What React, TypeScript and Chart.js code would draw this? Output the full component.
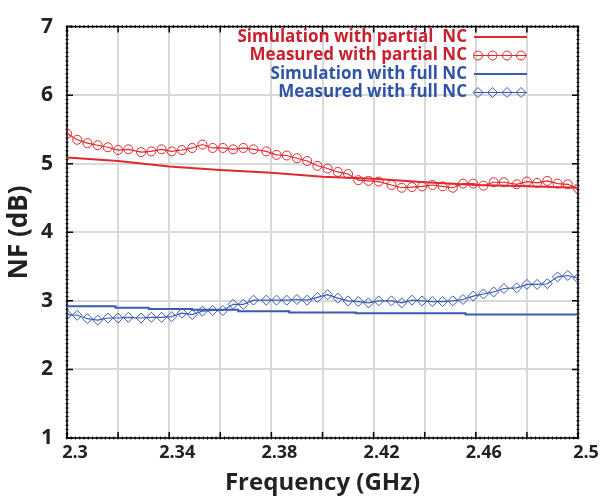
import React, { useEffect, useRef } from 'react';
import { Chart, registerables } from 'chart.js';

Chart.register(...registerables);

// Measured frequencies (GHz)
const FREQ = [
  2.300, 2.304, 2.308, 2.312, 2.316, 2.320, 2.324, 2.329, 2.333, 2.337,
  2.341, 2.345, 2.349, 2.353, 2.357, 2.361, 2.365, 2.369, 2.373, 2.378,
  2.382, 2.386, 2.390, 2.394, 2.398, 2.402, 2.406, 2.410, 2.414, 2.418,
  2.422, 2.427, 2.431, 2.435, 2.439, 2.443, 2.447, 2.451, 2.455, 2.459,
  2.463, 2.467, 2.471, 2.476, 2.480, 2.484, 2.488, 2.492, 2.496, 2.500,
];

const MEAS_PARTIAL = [
  5.44, 5.35, 5.30, 5.27, 5.24, 5.20, 5.21, 5.17, 5.18, 5.21,
  5.18, 5.20, 5.23, 5.28, 5.23, 5.23, 5.21, 5.23, 5.21, 5.18,
  5.13, 5.12, 5.08, 5.04, 4.97, 4.93, 4.88, 4.85, 4.76, 4.75,
  4.74, 4.69, 4.65, 4.66, 4.67, 4.69, 4.67, 4.65, 4.71, 4.71,
  4.68, 4.73, 4.73, 4.70, 4.74, 4.72, 4.75, 4.71, 4.70, 4.64,
];

const MEAS_FULL = [
  2.80, 2.79, 2.74, 2.72, 2.75, 2.75, 2.76, 2.75, 2.76, 2.76,
  2.77, 2.82, 2.80, 2.85, 2.86, 2.86, 2.95, 2.95, 3.01, 3.01,
  3.01, 3.01, 3.02, 3.01, 3.05, 3.09, 3.04, 3.00, 2.99, 2.97,
  3.00, 3.00, 2.97, 3.01, 3.00, 2.99, 2.99, 3.00, 3.02, 3.07,
  3.10, 3.13, 3.18, 3.19, 3.24, 3.24, 3.25, 3.35, 3.37, 3.33,
];

const SIM_PARTIAL_FREQ = [2.30, 2.32, 2.34, 2.36, 2.38, 2.40, 2.42, 2.44, 2.46, 2.48, 2.50];
const SIM_PARTIAL = [5.09, 5.04, 4.96, 4.91, 4.87, 4.81, 4.78, 4.73, 4.69, 4.67, 4.65];

const SIM_FULL_FREQ = [2.300, 2.319, 2.332, 2.349, 2.367, 2.387, 2.413, 2.456, 2.500];
const SIM_FULL = [2.92, 2.90, 2.88, 2.87, 2.85, 2.83, 2.82, 2.80, 2.80];

const X_TICK_LABELS = ['2.3', '2.34', '2.38', '2.42', '2.46', '2.5'];
const Y_TICKS = [1, 2, 3, 4, 5, 6, 7];

const LEGEND_LABELS = [
  'Simulation with partial  NC',
  'Measured with partial NC',
  'Simulation with full NC',
  'Measured with full NC',
];

const RED = '#e0292d';
const RED_TEXT = '#c8202d';
const BLUE = '#3a5bb0';
const BLUE_TEXT = '#2f53a6';
const FONT = '"Open Sans", Lato, sans-serif';

const zip = (xs: number[], ys: number[]) => xs.map((x, i) => ({ x, y: ys[i] }));

const framePlugin = {
  id: 'frame',
  beforeDatasetsDraw(chart: any) {
    const { ctx, chartArea } = chart;
    const { left, right, top, bottom } = chartArea;
    const xs = chart.scales.x;
    const ys = chart.scales.y;
    ctx.save();
    ctx.strokeStyle = '#000';
    ctx.lineWidth = 1;
    ctx.beginPath();
    const xStep = (xs.getPixelForValue(2.32) - xs.getPixelForValue(2.3)) / 12;
    for (let x = left; x <= right + 0.5; x += xStep) {
      ctx.moveTo(x, top - 1.5); ctx.lineTo(x, top + 1.5);
      ctx.moveTo(x, bottom - 1.5); ctx.lineTo(x, bottom + 1.5);
    }
    const yStep = (ys.getPixelForValue(1) - ys.getPixelForValue(2)) / 16;
    for (let y = bottom; y >= top - 0.5; y -= yStep) {
      ctx.moveTo(left - 1.5, y); ctx.lineTo(left + 1.5, y);
      ctx.moveTo(right - 1.5, y); ctx.lineTo(right + 1.5, y);
    }
    ctx.stroke();
    ctx.lineWidth = 1.5;
    ctx.beginPath();
    xs.ticks.forEach((t: any) => {
      const x = xs.getPixelForValue(t.value);
      ctx.moveTo(x, bottom); ctx.lineTo(x, bottom - 6);
      ctx.moveTo(x, top); ctx.lineTo(x, top + 6);
    });
    ys.ticks.forEach((t: any) => {
      const y = ys.getPixelForValue(t.value);
      ctx.moveTo(left, y); ctx.lineTo(left + 6, y);
      ctx.moveTo(right, y); ctx.lineTo(right - 6, y);
    });
    ctx.stroke();
    ctx.lineWidth = 1.5;
    ctx.strokeRect(left, top, right - left, bottom - top);
    ctx.restore();
  },
};

const legendPlugin = {
  id: 'customLegend',
  afterDraw(chart: any) {
    const { ctx } = chart;
    const textRight = 467;
    const lineStart = 474;
    const lineEnd = 527;
    const rows = [37, 55.5, 74, 92.5];
    ctx.save();
    chart.data.datasets.forEach((ds: any, i: number) => {
      const y = rows[i];
      ctx.font = `bold 17px ${FONT}`;
      ctx.textAlign = 'right';
      ctx.textBaseline = 'middle';
      ctx.fillStyle = ds.textColor;
      ctx.fillText(ds.label, textRight, y);
      ctx.strokeStyle = ds.borderColor;
      ctx.lineWidth = ds.pointRadius > 0 ? 1.2 : 2;
      ctx.beginPath();
      ctx.moveTo(lineStart, y);
      ctx.lineTo(lineEnd, y);
      ctx.stroke();
      if (ds.pointRadius > 0) {
        ctx.lineWidth = 1;
        const r = ds.pointRadius;
        [478, 492.5, 507, 521].forEach((px) => {
          ctx.beginPath();
          if (ds.pointStyle === 'circle') {
            ctx.arc(px, y, r, 0, Math.PI * 2);
          } else {
            ctx.moveTo(px, y - r);
            ctx.lineTo(px + r, y);
            ctx.lineTo(px, y + r);
            ctx.lineTo(px - r, y);
            ctx.closePath();
          }
          ctx.stroke();
        });
      }
    });
    ctx.restore();
  },
};

export default function App() {
  const ref = useRef<HTMLCanvasElement>(null);

  useEffect(() => {
    if (!ref.current) return;
    const chart = new Chart(ref.current, {
      type: 'line',
      data: {
        datasets: [
          {
            label: LEGEND_LABELS[0],
            data: zip(SIM_PARTIAL_FREQ, SIM_PARTIAL),
            borderColor: RED,
            borderWidth: 2,
            pointRadius: 0,
            textColor: RED_TEXT,
          } as any,
          {
            label: LEGEND_LABELS[1],
            data: zip(FREQ, MEAS_PARTIAL),
            borderColor: RED,
            borderWidth: 1.2,
            pointRadius: 4.5,
            pointStyle: 'circle',
            pointBorderWidth: 1,
            pointBorderColor: RED,
            pointBackgroundColor: 'rgba(0,0,0,0)',
            textColor: RED_TEXT,
          } as any,
          {
            label: LEGEND_LABELS[2],
            data: zip(SIM_FULL_FREQ, SIM_FULL),
            borderColor: BLUE,
            borderWidth: 2,
            pointRadius: 0,
            stepped: 'before',
            textColor: BLUE_TEXT,
          } as any,
          {
            label: LEGEND_LABELS[3],
            data: zip(FREQ, MEAS_FULL),
            borderColor: BLUE,
            borderWidth: 1.2,
            pointRadius: 5,
            pointStyle: 'rectRot',
            pointBorderWidth: 1,
            pointBorderColor: BLUE,
            pointBackgroundColor: 'rgba(0,0,0,0)',
            textColor: BLUE_TEXT,
          } as any,
        ],
      },
      options: {
        responsive: false,
        animation: false,
        layout: { padding: { top: 13, right: 22, bottom: 0, left: 0 } },
        plugins: {
          legend: { display: false },
          tooltip: { enabled: false },
        },
        scales: {
          x: {
            type: 'linear',
            min: 2.3,
            max: 2.5,
            afterFit: (s: any) => { s.height = 61; },
            ticks: {
              stepSize: 0.02,
              autoSkip: false,
              maxRotation: 0,
              padding: 4,
              labelOffset: 8,
              color: '#222',
              font: { family: FONT, size: 18, weight: 'bold' },
              callback: (v: any) => {
                const s = String(parseFloat(Number(v).toFixed(2)));
                return X_TICK_LABELS.includes(s) ? s : '';
              },
            },
            grid: { color: '#d9d9d9', lineWidth: 2, drawTicks: false },
            border: { display: false },
            title: {
              display: true,
              text: 'Frequency (GHz)',
              color: '#222',
              font: { family: FONT, size: 24, weight: 'bold' },
              padding: { top: 0, bottom: 1 },
            },
          },
          y: {
            type: 'linear',
            min: Y_TICKS[0],
            max: Y_TICKS[Y_TICKS.length - 1],
            afterFit: (s: any) => { s.width = 67; },
            ticks: {
              stepSize: 1,
              padding: 14,
              color: '#222',
              font: { family: FONT, size: 21, weight: 'bold' },
            },
            grid: { color: '#d9d9d9', lineWidth: 2, drawTicks: false },
            border: { display: false },
            title: {
              display: true,
              text: 'NF (dB)',
              color: '#222',
              font: { family: FONT, size: 26, weight: 'bold' },
              padding: { top: 4, bottom: 0 },
            },
          },
        },
      },
      plugins: [framePlugin, legendPlugin],
    });
    return () => chart.destroy();
  }, []);

  return (
    <div style={{ position: 'absolute', left: 0, top: 0, width: 600, height: 499, background: '#fff' }}>
      <canvas ref={ref} width={600} height={499} style={{ display: 'block' }} />
    </div>
  );
}
